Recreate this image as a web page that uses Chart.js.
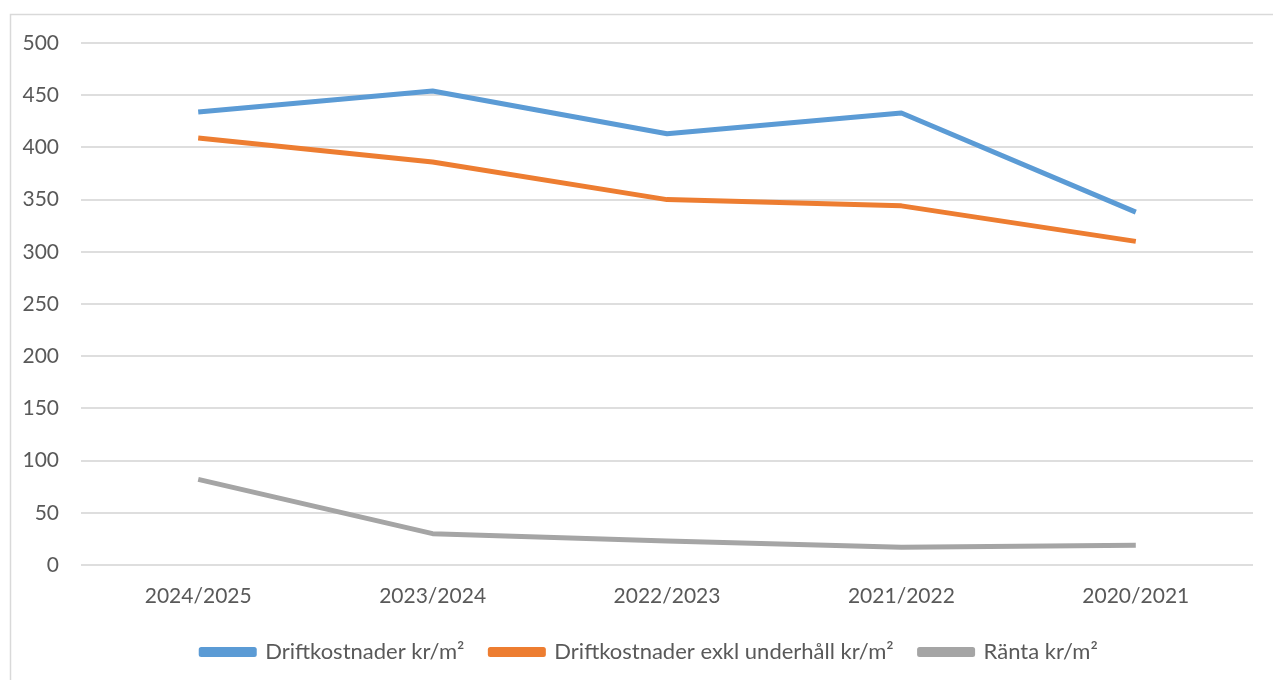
<!DOCTYPE html>
<html>
<head>
<meta charset="utf-8">
<style>
  html, body { margin: 0; padding: 0; background: #fff; overflow: hidden; }
  canvas { display: block; }
</style>
<script src="https://cdn.jsdelivr.net/npm/chart.js@4/dist/chart.umd.min.js"></script>
</head>
<body>
<canvas id="c" width="1273" height="680"></canvas>
<script>
// Operating years, newest first
const categories = ['2024/2025', '2023/2024', '2022/2023', '2021/2022', '2020/2021'];

// Costs per square metre (kr/m²)
const driftkostnader = [434, 454, 413, 433, 338];
const driftkostnaderExklUnderhall = [409, 386, 350, 344, 310];
const ranta = [82, 30, 23, 17, 19];

const seriesNames = ['Driftkostnader kr/m²', 'Driftkostnader exkl underhåll kr/m²', 'Ränta kr/m²'];
const seriesColors = ['#5B9BD5', '#ED7D31', '#A5A5A5'];

// Value axis range
const yMin = 0;
const yMax = 500;
const yStep = 50;

const FONT = 'Lato, "Liberation Sans", sans-serif';
const TEXT = '#595959';
const GRID = '#dedede';

// Thin frame around the chart
const framePlugin = {
  id: 'frame',
  beforeDraw(chart) {
    const ctx = chart.ctx;
    ctx.save();
    ctx.fillStyle = '#fff';
    ctx.fillRect(0, 0, chart.width, chart.height);
    ctx.strokeStyle = '#d9d9d9';
    ctx.lineWidth = 1.5;
    ctx.strokeRect(10.5, 14.5, chart.width + 20, chart.height + 20);
    ctx.restore();
  }
};

// The legend is centred on the framed area, which runs past the right edge
const legendShift = {
  id: 'legendShift',
  afterLayout(chart) {
    const lg = chart.legend;
    if (lg) { lg.left += 23; lg.right += 23; }
  }
};

const seriesData = [driftkostnader, driftkostnaderExklUnderhall, ranta];

new Chart(document.getElementById('c'), {
  type: 'line',
  data: {
    labels: categories,
    datasets: seriesData.map((d, i) => ({
      label: seriesNames[i],
      data: d,
      borderColor: seriesColors[i],
      backgroundColor: seriesColors[i],
      borderWidth: 5,
      pointRadius: 0,
      pointHoverRadius: 0,
      tension: 0,
      borderJoinStyle: 'round',
      borderCapStyle: 'butt',
      fill: false
    }))
  },
  options: {
    responsive: false,
    animation: false,
    layout: { padding: { top: 43, right: 20, left: 0, bottom: 7 } },
    scales: {
      x: {
        offset: true,
        grid: { display: false, drawTicks: false },
        border: { display: false },
        ticks: { color: TEXT, font: { family: FONT, size: 21 }, padding: 19, maxRotation: 0 },
        afterFit(scale) { scale.height = 50; }
      },
      y: {
        min: yMin,
        max: yMax,
        grid: { color: GRID, lineWidth: 2, drawTicks: false },
        border: { display: false },
        ticks: { stepSize: yStep, color: TEXT, font: { family: FONT, size: 21 }, padding: 22 },
        afterFit(scale) { scale.width = 81; }
      }
    },
    plugins: {
      legend: {
        position: 'bottom',
        labels: {
          color: TEXT,
          font: { family: FONT, size: 22 },
          boxWidth: 53,
          boxHeight: 5,
          padding: 26
        }
      },
      tooltip: { enabled: false }
    }
  },
  plugins: [framePlugin, legendShift]
});
</script>
</body>
</html>
